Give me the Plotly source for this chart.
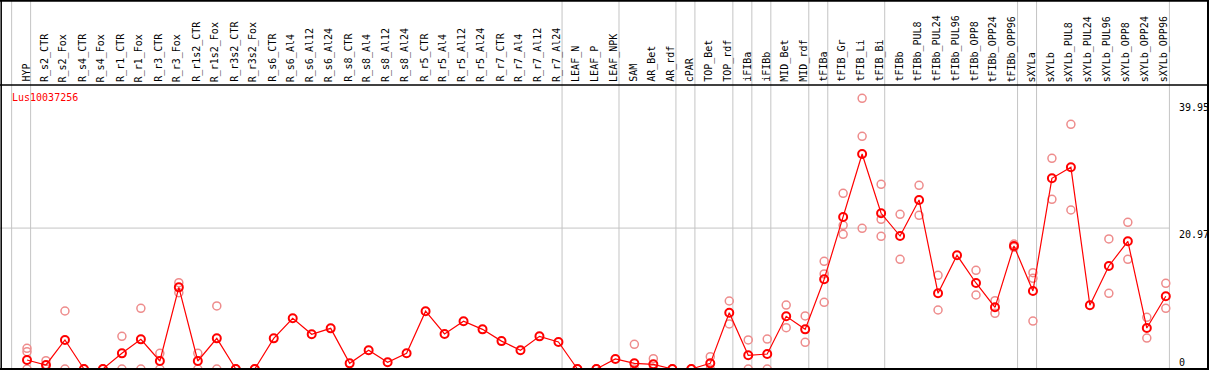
import plotly.graph_objects as go

# ---------------- data ----------------
categories = [
    "HYP", "R_s2_CTR", "R_s2_Fox", "R_s4_CTR", "R_s4_Fox", "R_r1_CTR", "R_r1_Fox",
    "R_r3_CTR", "R_r3_Fox", "R_r1s2_CTR", "R_r1s2_Fox", "R_r3s2_CTR", "R_r3s2_Fox",
    "R_s6_CTR", "R_s6_Al4", "R_s6_Al12", "R_s6_Al24", "R_s8_CTR", "R_s8_Al4",
    "R_s8_Al12", "R_s8_Al24", "R_r5_CTR", "R_r5_Al4", "R_r5_Al12", "R_r5_Al24",
    "R_r7_CTR", "R_r7_Al4", "R_r7_Al12", "R_r7_Al24", "LEAF_N", "LEAF_P", "LEAF_NPK",
    "SAM", "AR_Bet", "AR_rdf", "cPAR", "TOP_Bet", "TOP_rdf", "iFIBa", "iFIBb",
    "MID_Bet", "MID_rdf", "tFIBa", "tFIB_Gr", "tFIB_Li", "tFIB_Bi", "tFIBb",
    "tFIBb_PUL8", "tFIBb_PUL24", "tFIBb_PUL96", "tFIBb_OPP8", "tFIBb_OPP24",
    "tFIBb_OPP96", "sXYLa", "sXYLb", "sXYLb_PUL8", "sXYLb_PUL24", "sXYLb_PUL96",
    "sXYLb_OPP8", "sXYLb_OPP24", "sXYLb_OPP96",
]

# number of consecutive categories in each sample group (separated by grey lines)
group_sizes = [1, 28, 3, 3, 1, 2, 1, 1, 2, 1, 3, 7, 1, 7]

mean_values = [
    1.34, 0.60, 4.32, 0.0, 0.0, 2.33, 4.41, 1.19, 12.15, 1.19, 4.56, 0.0, 0.0,
    4.56, 7.54, 5.16, 6.05, 0.84, 2.80, 1.00, 2.35, 8.60, 5.21, 7.10, 5.90,
    4.15, 2.80, 4.86, 4.02, 0.0, 0.0, 1.49,
    0.84, 0.69, 0.0, 0.0, 0.84, 8.38, 2.04, 2.23, 7.84, 5.90,
    13.35, 22.62, 31.99, 23.17, 19.79, 25.15, 11.26, 16.92, 12.80, 9.18, 18.30,
    11.61, 28.38, 30.01, 9.48, 15.33, 19.00, 6.10, 10.82,
]

rep1 = [
    3.08, 1.24, 8.63, 0.0, 0.0, 4.86, 9.03, 2.33, 12.85, 2.33, 9.38, 0.0, 0.0,
    None, None, None, None, None, None, None, None, None, None, None, None,
    None, None, None, None, 0.0, 0.0, None,
    3.67, 1.53, 0.0, 0.0, 1.83, 10.12, 4.32, 4.46, 9.52, 7.89,
    16.02, 26.14, 40.28, 27.48, 23.02, 27.33, 13.94, None, 14.69, 10.16, 18.60,
    14.33, 31.35, 36.41, None, 19.35, 21.83, 7.69, 12.75,
]

rep2 = [
    2.58, 0.0, 0.0, 0.0, 0.0, 0.0, 0.0, 0.0, 11.36, 0.0, 0.0, 0.0, 0.0,
    None, None, None, None, None, None, None, None, None, None, None, None,
    None, None, None, None, 0.0, 0.0, None,
    0.0, 0.0, 0.0, 0.0, 0.0, 6.70, 0.0, 0.0, 6.15, 3.97,
    14.14, 21.38, 34.62, 22.27, 16.32, 22.87, 8.78, None, 11.01, 8.29, 18.10,
    13.50, 25.25, 23.66, None, 11.26, 16.32, 4.61, 9.03,
]

rep3 = [
    0.0, None, None, None, None, None, None, None, None, None, None, None, None,
    None, None, None, None, None, None, None, None, None, None, None, None,
    None, None, None, None, None, None, None,
    None, None, None, None, None, None, None, None, None, None,
    9.92, 20.04, 20.94, 19.75, None, None, None, None, None, None, None,
    7.14, None, None, None, None, None, None, None,
]

gene_name = "Lus10037256"
y_tick_values = [39.95, 20.97, 0]
grid_value = 20.97

# ---------------- geometry ----------------
W, H = 1209, 370
HEADER_PX = 85          # header band height
PX_PER_CAT = 18.98
FIRST_CAT_PX = 27.0
PX_PER_UNIT = 6.72
ZERO_PX = 369.0         # pixel row of value 0

x_lo = -FIRST_CAT_PX / PX_PER_CAT
x_hi = (W - FIRST_CAT_PX) / PX_PER_CAT
y_lo = (ZERO_PX - H) / PX_PER_UNIT
y_hi = (ZERO_PX - HEADER_PX) / PX_PER_UNIT
plot_top = (H - HEADER_PX) / H

idx = list(range(len(categories)))

RED = "#ff0000"
PALE = "rgb(238,140,140)"
FONT = "DejaVu Sans Mono"

fig = go.Figure()

rep_x, rep_y = [], []
for reps in (rep1, rep2, rep3):
    for i, v in zip(idx, reps):
        if v is not None:
            rep_x.append(i)
            rep_y.append(v)

fig.add_trace(go.Scatter(
    x=rep_x, y=rep_y, mode="markers",
    marker=dict(symbol="circle-open", size=8, color=PALE, line=dict(width=1.5, color=PALE)),
    hoverinfo="skip", showlegend=False,
))
fig.add_trace(go.Scatter(
    x=idx, y=mean_values, mode="lines+markers",
    line=dict(color=RED, width=1.2),
    marker=dict(symbol="circle-open", size=8, color=RED, line=dict(width=2, color=RED)),
    text=categories, showlegend=False,
))

shapes = []
# group separators
sep_positions = [-1]
acc = -1
for g in group_sizes:
    acc += g
    sep_positions.append(acc)
for s in sep_positions:
    shapes.append(dict(type="line", xref="x", yref="paper", x0=s + 0.19, x1=s + 0.19,
                       y0=0, y1=1, line=dict(color="#c4c4c4", width=1), layer="below"))
# grid line at 20.97
shapes.append(dict(type="line", xref="paper", yref="y", x0=0, x1=(FIRST_CAT_PX + PX_PER_CAT * (sep_positions[-1] + 0.19)) / W,
                   y0=grid_value, y1=grid_value, line=dict(color="#c4c4c4", width=1), layer="below"))
# frame
shapes += [
    dict(type="line", xref="paper", yref="paper", x0=0, x1=1, y0=1 - 0.8 / H, y1=1 - 0.8 / H,
         line=dict(color="black", width=2)),
    dict(type="line", xref="paper", yref="paper", x0=0, x1=1, y0=plot_top, y1=plot_top,
         line=dict(color="black", width=1.5)),
    dict(type="line", xref="paper", yref="paper", x0=0, x1=1, y0=1 / H, y1=1 / H,
         line=dict(color="black", width=2)),
    dict(type="line", xref="paper", yref="paper", x0=1.2 / W, x1=1.2 / W, y0=0, y1=1,
         line=dict(color="black", width=1.5)),
    dict(type="line", xref="paper", yref="paper", x0=1208 / W, x1=1208 / W, y0=0, y1=1,
         line=dict(color="black", width=2)),
]

annotations = []
for i, name in zip(idx, categories):
    annotations.append(dict(
        x=i, xref="x", y=(H - 83) / H, yref="paper", text=name, showarrow=False,
        textangle=-90, xanchor="center", yanchor="bottom", xshift=-1.5, borderpad=0,
        font=dict(family=FONT, size=10, color="black"),
    ))
annotations.append(dict(
    x=10 / W, xref="paper", y=(H - 97) / H, yref="paper", text=gene_name, showarrow=False,
    xanchor="left", yanchor="middle", font=dict(family=FONT, size=10, color=RED),
))
for v in y_tick_values:
    annotations.append(dict(
        x=1177.5 / W, xref="paper", y=v, yref="y", text=f"{v:g}" if v == 0 else f"{v:.2f}",
        showarrow=False, xanchor="left", yanchor="bottom" if v == 0 else "top", borderpad=0,
        font=dict(family=FONT, size=10, color="black"),
    ))

fig.update_layout(
    width=W, height=H, margin=dict(l=0, r=0, t=0, b=0),
    paper_bgcolor="white", plot_bgcolor="white",
    xaxis=dict(range=[x_lo, x_hi], domain=[0, 1], visible=False, fixedrange=True),
    yaxis=dict(range=[y_lo, y_hi], domain=[0, plot_top], visible=False, fixedrange=True),
    shapes=shapes, annotations=annotations,
)

fig.write_html(
    "out.html",
    config={"displayModeBar": False},
    post_script="document.body.style.margin='0px';document.body.style.overflow='hidden';",
)
